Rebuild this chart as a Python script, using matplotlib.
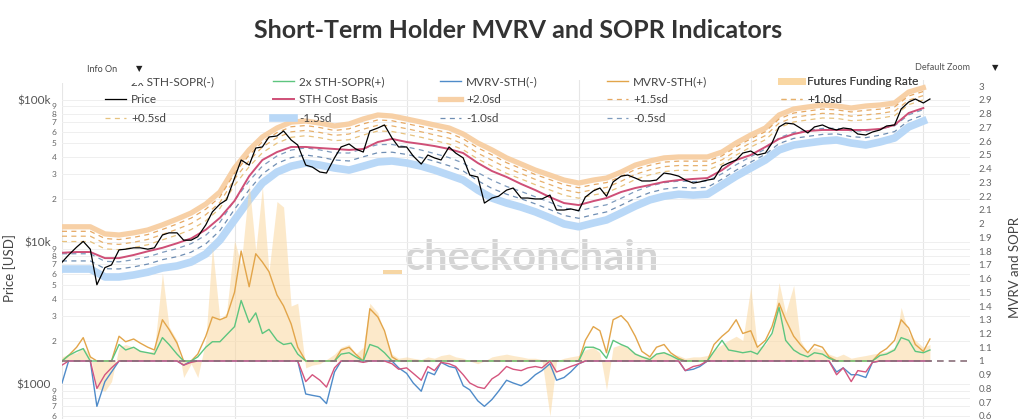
import numpy as np
import pandas as pd
import matplotlib
matplotlib.use("Agg")
import matplotlib.pyplot as plt
import matplotlib.dates as mdates
from matplotlib.lines import Line2D
from matplotlib.patches import Rectangle

plt.rcParams['font.family'] = ['Lato', 'DejaVu Sans']

# monthly values, thousands of USD: STH cost basis and the outer sd bands
band_dates = pd.date_range('2020-01-01', '2025-01-01', freq='MS')
sth_cost_basis = [8.4, 8.5, 8.5, 7.7, 7.7, 8.1, 8.6, 9.1, 9.8, 10.6,
                  12.2, 14.8, 19.5, 29.1, 37.8, 43.0, 46.7, 46.7, 45.9, 45.2,
                  44.5, 45.2, 50.6, 53.2, 50.6, 49.0, 47.4, 45.2, 42.3, 36.0,
                  31.6, 28.7, 25.6, 23.2, 20.7, 18.8, 18.2, 19.4, 20.4, 22.5,
                  24.0, 25.2, 26.5, 27.3, 27.8, 28.2, 32.1, 37.8, 41.0, 46.7,
                  53.2, 57.6, 60.5, 61.5, 61.5, 61.5, 61.5, 62.5, 66.7, 81.0,
                  87.8]
band_plus_2sd = [12.8, 12.8, 12.8, 11.4, 11.2, 11.6, 12.15, 13.2, 14.5, 16.0,
                 18.5, 22.5, 33.2, 44.5, 54.9, 63.5, 69.9, 71.1, 68.8, 65.6,
                 67.8, 73.5, 78.4, 77.1, 73.5, 69.9, 66.7, 63.5, 57.6, 49.8,
                 44.5, 39.1, 35.4, 32.1, 29.6, 27.3, 26.0, 27.3, 28.2, 31.1,
                 34.8, 37.2, 39.1, 39.7, 39.7, 39.7, 43.0, 49.8, 56.7, 63.5,
                 78.4, 86.4, 89.3, 92.2, 90.7, 87.8, 90.7, 92.2, 95.3, 113.8,
                 122.0]
band_minus_15sd = [6.45, 6.45, 6.45, 5.67, 5.67, 5.86, 6.13, 6.56, 6.78, 7.23,
                   8.23, 10.3, 14.3, 19.8, 26.0, 31.1, 34.2, 36.0, 34.8, 33.2,
                   32.1, 34.2, 36.6, 37.2, 36.0, 34.2, 32.1, 29.6, 27.3, 23.2,
                   20.4, 18.8, 17.6, 16.3, 14.8, 13.4, 12.8, 13.6, 14.3, 16.0,
                   17.9, 19.8, 21.0, 21.7, 21.4, 21.7, 25.2, 29.1, 33.2, 37.8,
                   44.5, 48.2, 49.8, 51.4, 52.3, 49.8, 48.2, 50.6, 54.0, 64.6,
                   71.1]

# twice a month: price (thousands of USD) and the oscillators (right axis)
osc_dates = pd.date_range('2020-01-01', '2025-01-15', freq='SMS')
price = [7.2, 8.1, 9.2, 10.1, 8.9, 5.0, 6.6, 6.9, 8.8, 8.9,
         9.1, 9.1, 8.9, 9.1, 11.2, 11.6, 11.6, 10.3, 10.3, 10.9,
         13.2, 16.3, 18.5, 19.8, 28.2, 37.8, 34.8, 45.9, 46.7, 54.9,
         55.8, 60.5, 52.3, 48.2, 34.8, 33.7, 31.1, 30.6, 39.1, 46.7,
         49.0, 45.2, 43.0, 60.5, 63.5, 66.7, 54.0, 46.7, 46.7, 40.3,
         35.4, 41.0, 39.1, 37.8, 46.7, 42.3, 39.1, 29.6, 28.7, 18.8,
         20.4, 21.0, 23.2, 24.0, 20.4, 20.4, 20.1, 20.1, 21.4, 16.8,
         16.8, 17.1, 16.6, 20.7, 22.9, 24.0, 21.0, 26.5, 29.1, 29.6,
         28.2, 26.9, 26.9, 27.3, 30.6, 30.1, 29.1, 27.3, 26.0, 26.5,
         27.3, 27.8, 34.2, 36.0, 37.8, 42.3, 43.7, 41.0, 42.3, 49.8,
         64.6, 68.8, 67.8, 63.5, 58.6, 64.6, 66.7, 63.5, 61.5, 63.5,
         62.5, 57.6, 56.7, 59.5, 61.5, 65.6, 66.7, 86.4, 96.8, 101.6,
         95.3, 101.6]
mvrv_sth = [0.84, 1.04, 1.10, 1.17, 1.03, 0.67, 0.85, 0.92, 1.18, 1.14,
            1.16, 1.13, 1.10, 1.08, 1.30, 1.23, 1.13, 0.97, 1.00, 1.05,
            1.18, 1.32, 1.30, 1.32, 1.50, 1.80, 1.54, 1.78, 1.72, 1.65,
            1.48, 1.40, 1.27, 1.10, 0.76, 0.75, 0.74, 0.69, 0.92, 1.08,
            1.10, 1.05, 1.00, 1.38, 1.32, 1.22, 1.03, 0.95, 0.91, 0.84,
            0.78, 0.92, 0.90, 0.99, 0.96, 0.95, 0.82, 0.79, 0.71, 0.67,
            0.72, 0.78, 0.86, 0.84, 0.82, 0.85, 0.90, 0.93, 0.98, 0.86,
            0.88, 0.92, 0.98, 1.15, 1.25, 1.22, 1.06, 1.30, 1.33, 1.28,
            1.18, 1.07, 1.03, 1.10, 1.12, 1.06, 1.02, 0.93, 0.94, 0.96,
            1.00, 1.12, 1.18, 1.22, 1.30, 1.20, 1.22, 1.10, 1.15, 1.25,
            1.42, 1.30, 1.18, 1.12, 1.06, 1.12, 1.10, 1.03, 0.92, 0.95,
            0.90, 0.90, 0.88, 0.99, 1.06, 1.09, 1.15, 1.30, 1.24, 1.12,
            1.07, 1.16]
sopr_2x = [0.97, 1.04, 1.07, 1.09, 1.00, 0.80, 0.90, 0.95, 1.12, 1.08,
           1.10, 1.07, 1.06, 1.05, 1.17, 1.12, 1.05, 0.97, 0.99, 1.03,
           1.10, 1.14, 1.14, 1.19, 1.25, 1.44, 1.28, 1.35, 1.20, 1.23,
           1.15, 1.12, 1.13, 1.05, 0.85, 0.90, 0.86, 0.81, 0.95, 1.05,
           1.06, 1.03, 0.99, 1.12, 1.10, 1.06, 0.98, 0.94, 0.95, 0.91,
           0.86, 0.96, 0.93, 0.99, 0.98, 0.96, 0.90, 0.84, 0.81, 0.80,
           0.87, 0.90, 0.96, 0.94, 0.93, 0.95, 0.96, 0.95, 1.00, 0.92,
           0.94, 0.96, 0.98, 1.10, 1.10, 1.08, 1.02, 1.15, 1.12, 1.10,
           1.05, 1.03, 1.01, 1.05, 1.06, 1.04, 1.01, 0.93, 0.96, 0.97,
           1.00, 1.07, 1.15, 1.08, 1.07, 1.06, 1.07, 1.05, 1.13, 1.20,
           1.39, 1.15, 1.08, 1.05, 1.03, 1.06, 1.05, 1.02, 0.90, 0.95,
           0.85, 0.93, 0.92, 0.99, 1.04, 1.05, 1.08, 1.17, 1.15, 1.07,
           1.06, 1.08]
funding_rate = [1.03, 1.05, 1.06, 1.10, 1.04, 0.80, 0.78, 0.85, 1.10, 1.12,
                1.10, 1.08, 1.06, 1.08, 1.64, 1.25, 1.15, 0.88, 0.98, 0.88,
                1.15, 1.83, 1.30, 1.35, 1.88, 1.70, 2.29, 1.80, 2.27, 1.65,
                2.16, 2.12, 1.40, 1.42, 0.95, 0.97, 0.98, 1.01, 1.05, 1.10,
                1.12, 1.05, 1.10, 1.42, 1.35, 1.20, 1.05, 1.02, 1.03, 1.02,
                1.01, 1.03, 1.02, 1.04, 1.05, 1.03, 1.02, 1.00, 0.98, 1.00,
                1.03, 1.04, 1.05, 1.04, 1.03, 1.02, 1.02, 1.01, 0.60, 1.00,
                1.02, 1.03, 1.04, 1.08, 1.10, 1.06, 0.79, 1.10, 1.12, 1.10,
                1.06, 1.04, 1.03, 1.06, 1.07, 1.05, 1.04, 1.02, 1.03, 1.03,
                1.04, 1.08, 1.12, 1.15, 1.18, 1.15, 1.54, 1.10, 1.12, 1.20,
                1.57, 1.35, 1.55, 1.15, 1.06, 1.10, 1.08, 1.05, 1.03, 1.05,
                1.02, 1.03, 1.04, 1.05, 1.06, 1.07, 1.10, 1.39, 1.20, 1.15,
                1.10, 1.12]

W, H = 1024, 419
fig = plt.figure(figsize=(W / 100, H / 100), dpi=100)
ax = fig.add_axes([62 / W, 0, (970 - 62) / W, (419 - 80) / H])
ax2 = ax.twinx()

cb = np.array(sth_cost_basis) * 1000
hi = np.array(band_plus_2sd) * 1000
lo = np.array(band_minus_15sd) * 1000
sd_step = (hi - lo) / 3.5  # bands are evenly spaced between -1.5sd and +2.0sd


def sd_band(k):
    return lo + (k + 1.5) * sd_step


# price panel (left, log)
h_p2, = ax.plot(band_dates, hi, color='#f7d0a6', lw=3.8, label='+2.0sd')
h_m15, = ax.plot(band_dates, lo, color='#b9d8f7', lw=5.5, label='-1.5sd')
dash = (0, (4, 3.5))
h_p15, = ax.plot(band_dates, sd_band(1.5), color='#e6a863', lw=0.9, ls=dash, label='+1.5sd')
h_p10, = ax.plot(band_dates, sd_band(1.0), color='#e6b06c', lw=0.9, ls=dash, label='+1.0sd')
h_p05, = ax.plot(band_dates, sd_band(0.5), color='#e7c27e', lw=0.9, ls=dash, label='+0.5sd')
h_m10, = ax.plot(band_dates, sd_band(-1.0), color='#6f8eb3', lw=0.9, ls=dash, label='-1.0sd')
h_m05, = ax.plot(band_dates, sd_band(-0.5), color='#7e9bbd', lw=0.9, ls=dash, label='-0.5sd')
h_cb, = ax.plot(band_dates, cb, color='#cf4f77', lw=1.4, label='STH Cost Basis')
h_px, = ax.plot(osc_dates, np.array(price) * 1000, color='black', lw=0.9, label='Price')

# oscillator panel (right, linear)
mv = np.array(mvrv_sth)
sp = np.array(sopr_2x)
ax2.fill_between(osc_dates, 1, funding_rate, color='#fbd8a0', alpha=0.55, lw=0)
h_mvp, = ax2.plot(osc_dates, np.maximum(mv, 1), color='#e2a54a', lw=1, label='MVRV-STH(+)')
h_mvn, = ax2.plot(osc_dates, np.minimum(mv, 1), color='#4f8bc9', lw=1, label='MVRV-STH(-)')
h_spp, = ax2.plot(osc_dates, np.maximum(sp, 1), color='#5dc57f', lw=1, label='2x STH-SOPR(+)')
h_spn, = ax2.plot(osc_dates, np.minimum(sp, 1), color='#d4557e', lw=1, label='2x STH-SOPR(-)')
ax2.axhline(1, color='#8a6f7a', lw=1.2, ls=(0, (4, 3)))
h_fund = Line2D([], [], color='#f9d7a3', lw=5, label='Futures Funding Rate')

# axes, ticks, grid
ax.set_yscale('log')
ax.set_yticks([1e3, 1e4, 1e5])
ax.set_yticklabels(['$1000', '$10k', '$100k'], fontsize=8.5, color='#555555')
minor = [m * 10 ** e for e in (2, 3, 4) for m in range(2, 10)]
ax.set_yticks(minor, minor=True)
ax.set_yticklabels([str(m) for e in (2, 3, 4) for m in range(2, 10)], minor=True,
                   fontsize=6, color='#666666')
ax.tick_params(axis='y', which='major', length=0, pad=8)
ax.tick_params(axis='y', which='minor', length=0, pad=4)
ax.xaxis.set_major_locator(mdates.YearLocator())
ax.tick_params(axis='x', length=0, labelbottom=False)
ax.grid(axis='y', which='both', color='#efefef', lw=0.7)
ax.grid(axis='x', color='#e6e6e6', lw=0.8)

r_ticks = np.arange(6, 31) / 10
ax2.set_yticks(r_ticks)
ax2.set_yticklabels(['%g' % t for t in r_ticks], fontsize=7, color='#666666')
ax2.tick_params(axis='y', length=0, pad=6)
for a in (ax, ax2):
    for s in a.spines.values():
        s.set_visible(False)

# limits last, so the tick lists cannot widen them
ax.set_ylim(567, 138300)
ax2.set_ylim(0.578, 3.044)
ax.set_xlim(pd.Timestamp('2020-01-01'), pd.Timestamp('2025-04-10'))

# legend: five columns, filled row by row
columns = [
    [h_spn, h_px, h_p05],
    [h_spp, h_cb, h_m15],
    [h_mvn, h_p2, h_m10],
    [h_mvp, h_p15, h_m05],
    [h_fund, h_p10],
]
col_x = [105, 273, 440, 607, 781]
for hs, cx in zip(columns, col_x):
    leg = ax2.legend(handles=hs, loc='upper left', bbox_to_anchor=(cx / W, 1 - 76 / H),
                     bbox_transform=fig.transFigure, frameon=False, fontsize=8.5,
                     handlelength=1.8, handletextpad=0.4, labelspacing=0.62,
                     borderpad=0, borderaxespad=0)
    for t in leg.get_texts():
        t.set_color('#444444')
    ax2.add_artist(leg)

# watermark
ax.text(532 / W, 1 - 258 / H, 'checkonchain', transform=fig.transFigure, fontsize=30,
        fontweight='bold', color='#d4d4d4', ha='center', va='center', zorder=0.5)
ax.add_patch(Rectangle((383 / W, 1 - 274 / H), 19 / W, 4 / H, transform=fig.transFigure,
                       color='#f6d6a4', lw=0, zorder=0.5, clip_on=False))

# titles and labels
fig.text(518 / W, 1 - 30 / H, 'Short-Term Holder MVRV and SOPR Indicators', ha='center',
         va='center', fontsize=18, fontweight='bold', color='#333333')
fig.text(10 / W, 1 - 268 / H, 'Price [USD]', rotation=90, ha='center', va='center',
         fontsize=9.5, color='#444444')
fig.text(1015 / W, 1 - 268 / H, 'MVRV and SOPR', rotation=90, ha='center', va='center',
         fontsize=9.5, color='#444444')

# dropdown widgets on top
fig.patches.append(Rectangle((62 / W, 1 - 83 / H), 81 / W, 27 / H, transform=fig.transFigure,
                             facecolor='white', edgecolor='none', zorder=10))
fig.text(87 / W, 1 - 69 / H, 'Info On', fontsize=6.5, color='#444444', va='center', zorder=11)
fig.text(136 / W, 1 - 69 / H, '\u25bc', fontsize=6, color='#222222', va='center', zorder=11)
fig.text(915 / W, 1 - 68 / H, 'Default Zoom', fontsize=6.5, color='#555555', va='center')
fig.text(992 / W, 1 - 68 / H, '\u25bc', fontsize=6, color='#222222', va='center')

fig.savefig('out.png', dpi=100, facecolor='white')
